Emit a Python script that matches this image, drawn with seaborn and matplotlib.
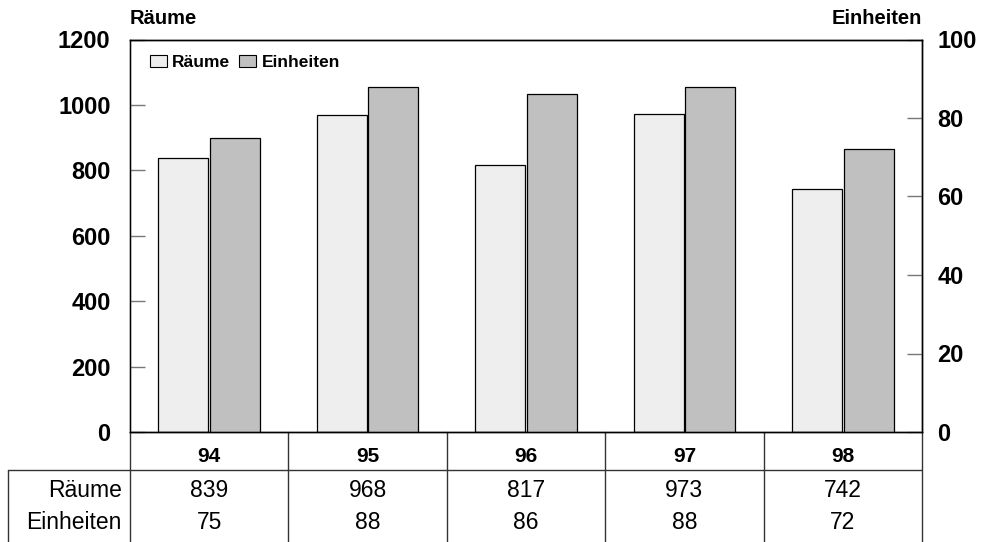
import matplotlib
matplotlib.use("Agg")
import matplotlib.pyplot as plt
import matplotlib.transforms as mtransforms
from matplotlib.patches import Patch
import pandas as pd
import seaborn as sns

# Jahre und Werte
jahre = ["94", "95", "96", "97", "98"]
raeume = [839, 968, 817, 973, 742]
einheiten = [75, 88, 86, 88, 72]
serien = ["Räume", "Einheiten"]
farben = {"Räume": "#eeeeee", "Einheiten": "#c0c0c0"}

sns.set_style("white")
plt.rcParams["font.family"] = ["Liberation Sans", "DejaVu Sans"]
plt.rcParams["text.color"] = "black"
plt.rcParams["axes.labelcolor"] = "black"
plt.rcParams["xtick.color"] = "black"
plt.rcParams["ytick.color"] = "black"

df_r = pd.DataFrame({"Jahr": jahre, "Wert": raeume, "Serie": "Räume"})
df_e = pd.DataFrame({"Jahr": jahre, "Wert": einheiten, "Serie": "Einheiten"})

fig = plt.figure(figsize=(9.86, 5.42), dpi=100)
ax = fig.add_axes([130 / 986, 1 - 432 / 542, 792 / 986, 392.5 / 542])
ax2 = ax.twinx()

common = dict(x="Jahr", y="Wert", hue="Serie", hue_order=serien, order=jahre,
              palette=farben, width=0.65, gap=0.03, dodge=True,
              edgecolor="black", linewidth=0.9, legend=False, errorbar=None)
sns.barplot(data=df_r, ax=ax, **common)
sns.barplot(data=df_e, ax=ax2, **common)

ax.set_ylim(0, 1200)
ax2.set_ylim(0, 100)
ax.set_yticks(range(0, 1201, 200))
ax2.set_yticks(range(0, 101, 20))
ax.set_xlim(-0.5, len(jahre) - 0.5)

for a in (ax, ax2):
    a.set_xlabel("")
    a.set_ylabel("")
    a.tick_params(axis="x", bottom=False, labelbottom=False, top=False)
    for s in a.spines.values():
        s.set_color("black")
        s.set_linewidth(1.0)
ax.spines["left"].set_color("#777777")

ax.tick_params(axis="y", direction="in", length=11, width=1, color="#777777",
               labelcolor="black", labelsize=17, pad=14, left=True, right=False)
ax2.tick_params(axis="y", direction="in", length=11, width=1, color="#777777",
                labelcolor="black", labelsize=17, pad=11, right=True, left=False)
for lab in ax.get_yticklabels() + ax2.get_yticklabels():
    lab.set_fontweight("bold")

# Achsentitel
ax.text(0.0, 1.03, "Räume", transform=ax.transAxes, ha="left", va="bottom",
        fontsize=14.5, fontweight="bold")
ax.text(1.0, 1.03, "Einheiten", transform=ax.transAxes, ha="right", va="bottom",
        fontsize=14.5, fontweight="bold")

# Legende
handles = [Patch(facecolor=farben[s], edgecolor="black", linewidth=0.8, label=s)
           for s in serien]
leg = ax.legend(handles=handles, loc="upper left", bbox_to_anchor=(0.005, 1.0),
                ncol=2, frameon=False, handlelength=1.0, handleheight=0.7,
                handletextpad=0.3, columnspacing=0.5,
                prop={"weight": "bold", "size": 12.5})

# Datentabelle unter dem Diagramm
trans = mtransforms.blended_transform_factory(ax.transData, ax.transAxes)
y_head = -0.0968
y_bottom = -0.2803
n = len(jahre)
line_kw = dict(color="#333333", linewidth=1.0, clip_on=False)
for k in range(n + 1):
    x = k - 0.5
    ax.plot([x, x], [0, y_bottom], transform=trans, **line_kw)
x_label_left = -0.5 - 122 / 158.4
ax.plot([x_label_left, n - 0.5], [y_head, y_head], transform=trans, **line_kw)
ax.plot([x_label_left, x_label_left], [y_head, y_bottom], transform=trans, **line_kw)

for i, j in enumerate(jahre):
    ax.text(i, -0.062, j, transform=trans, ha="center", va="center",
            fontsize=15, fontweight="bold")
    ax.text(i, -0.1478, str(raeume[i]), transform=trans, ha="center",
            va="center", fontsize=16.5)
    ax.text(i, -0.2293, str(einheiten[i]), transform=trans, ha="center",
            va="center", fontsize=16.5)

x_rowlab = -0.5 - 8 / 158.4
ax.text(x_rowlab, -0.1478, "Räume", transform=trans, ha="right", va="center",
        fontsize=16.5)
ax.text(x_rowlab, -0.2293, "Einheiten", transform=trans, ha="right",
        va="center", fontsize=16.5)

fig.savefig("out.png", dpi=100)
